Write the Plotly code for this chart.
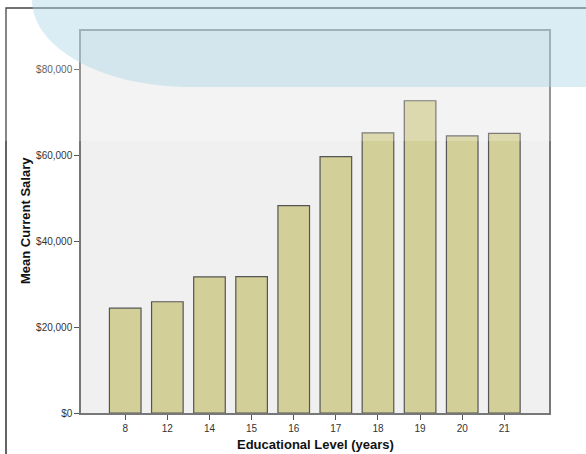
import plotly.graph_objects as go

# Data
education_levels = ["8", "12", "14", "15", "16", "17", "18", "19", "20", "21"]
mean_salary = [24400, 25900, 31700, 31750, 48300, 59700, 65200, 72700, 64500, 65100]
y_tick_vals = [0, 20000, 40000, 60000, 80000]
y_tick_text = ["$0", "$20,000", "$40,000", "$60,000", "$80,000"]

W, H = 586, 454
ML, MR, MT, MB = 81, 37, 31, 41
PW, PH = W - ML - MR, H - MT - MB


def px(x):
    return (x - ML) / PW


def py(y):
    return 1 - (y - MT) / PH


fig = go.Figure()
fig.add_trace(go.Bar(
    x=education_levels,
    y=mean_salary,
    marker=dict(color="#d3cf98", line=dict(color="#555555", width=1.2)),
    hoverinfo="x+y",
))

font_family = "Liberation Sans, Arial, sans-serif"

fig.update_layout(
    width=W, height=H,
    margin=dict(l=ML, r=MR, t=MT, b=MB, autoexpand=False),
    paper_bgcolor="white",
    plot_bgcolor="#f0f0f0",
    showlegend=False,
    bargap=0.25,
    font=dict(family=font_family, size=10, color="#333333"),
    xaxis=dict(
        type="category",
        range=[-1.05, 10.06],
        showgrid=False, zeroline=False,
        showline=True, linecolor="#777777", linewidth=1.5, mirror=True,
        ticks="outside", ticklen=5, tickcolor="#555555", tickwidth=1,
        tickfont=dict(size=10, color="#333333", family=font_family),
    ),
    yaxis=dict(
        range=[0, 88940],
        tickvals=y_tick_vals, ticktext=y_tick_text,
        showgrid=False, zeroline=False,
        showline=True, linecolor="#777777", linewidth=1.5, mirror=True,
        ticks="outside", ticklen=5, tickcolor="#555555", tickwidth=1,
        tickfont=dict(size=10, color="#333333", family=font_family),
    ),
    annotations=[
        dict(text="<b>Educational Level (years)</b>", xref="paper", yref="paper",
             x=px(315), y=py(444), xanchor="center", yanchor="middle",
             showarrow=False, font=dict(size=13, color="#111111", family=font_family)),
        dict(text="<b>Mean Current Salary</b>", xref="paper", yref="paper",
             x=px(25), y=py(221), xanchor="center", yanchor="middle", textangle=-90,
             showarrow=False, font=dict(size=13, color="#111111", family=font_family)),
    ],
)

# Outer frame
fig.add_shape(type="rect", xref="paper", yref="paper",
              x0=px(6), x1=px(640), y0=py(8), y1=py(520),
              line=dict(color="#111111", width=1.3), fillcolor="rgba(0,0,0,0)", layer="above")

# Faint white glare band at the top
fig.add_shape(type="rect", xref="paper", yref="paper",
              x0=px(-10), x1=px(W + 10), y0=py(-10), y1=py(141),
              line=dict(width=0), fillcolor="rgba(255,255,255,0.22)", layer="above")

# Light blue swoosh
cx, rx, ry = 190, 158, 87
k = 0.5523
pts = {
    "a": (px(cx - rx), py(-10)),
    "b": (px(cx - rx), py(0)),
    "c1": (px(cx - rx), py(k * ry)),
    "c2": (px(cx - k * rx), py(ry)),
    "d": (px(cx), py(ry)),
    "e": (px(W + 10), py(ry)),
    "f": (px(W + 10), py(-10)),
}
path = (f"M {pts['a'][0]},{pts['a'][1]} L {pts['b'][0]},{pts['b'][1]} "
        f"C {pts['c1'][0]},{pts['c1'][1]} {pts['c2'][0]},{pts['c2'][1]} {pts['d'][0]},{pts['d'][1]} "
        f"L {pts['e'][0]},{pts['e'][1]} L {pts['f'][0]},{pts['f'][1]} Z")
fig.add_shape(type="path", xref="paper", yref="paper", path=path,
              line=dict(width=0), fillcolor="rgba(173,216,230,0.45)", layer="above")

fig.write_html("out.html",
               config={"displayModeBar": False},
               post_script="document.body.style.margin='0px';document.body.style.overflow='hidden';")
